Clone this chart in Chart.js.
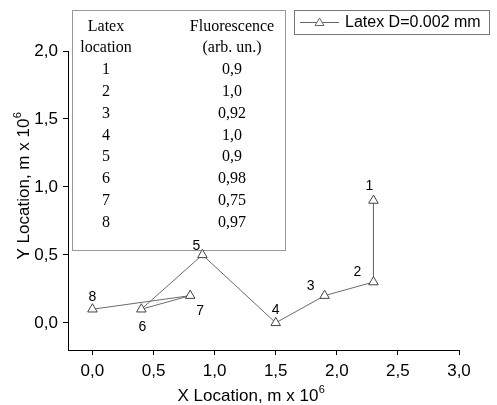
<!DOCTYPE html>
<html>
<head>
<meta charset="utf-8">
<script src="https://cdn.jsdelivr.net/npm/chart.js@4.4.0/dist/chart.umd.min.js"></script>
<style>
html,body{margin:0;padding:0;background:#fff;}
#wrap{width:497px;height:405px;position:relative;}
</style>
</head>
<body>
<div id="wrap"><canvas id="c" width="497" height="405"></canvas></div>
<script>
// ---- data ----
const pointNames = ['1','2','3','4','5','6','7','8'];
const xValues = [2.3, 2.3, 1.9, 1.5, 0.9, 0.4, 0.8, 0.0];
const yValues = [0.9, 0.3, 0.2, 0.0, 0.5, 0.1, 0.2, 0.1];
const xTicks = [0, 0.5, 1.0, 1.5, 2.0, 2.5, 3.0];
const yTicks = [0, 0.5, 1.0, 1.5, 2.0];
const seriesName = 'Latex D=0.002 mm';
const tableHeaderLeft = ['Latex', 'location'];
const tableHeaderRight = ['Fluorescence', '(arb. un.)'];
const tableLocations = ['1','2','3','4','5','6','7','8'];
const tableFluorescence = ['0,9','1,0','0,92','1,0','0,9','0,98','0,75','0,97'];
const xTitle = 'X Location, m x 10';
const yTitle = 'Y Location, m x 10';
const titleExp = '6';

// label offsets (style)
const labelOffsets = [[-4,-14],[-16,-10],[-14,-9],[0,-13],[-6,-9],[1,18],[10,16],[0,-12]];

const fmt = v => v.toFixed(1).replace('.', ',');
const SANS = '"Liberation Sans", Arial, sans-serif';
const SERIF = '"Liberation Serif", "Times New Roman", serif';

const decor = {
  id: 'decor',
  beforeDatasetsDraw(chart) {
    const ctx = chart.ctx;
    // table box
    ctx.save();
    ctx.fillStyle = '#fff';
    ctx.fillRect(72, 10, 213, 240);
    ctx.strokeStyle = '#999';
    ctx.lineWidth = 1;
    ctx.strokeRect(72.5, 10.5, 213, 240);
    ctx.fillStyle = '#000';
    ctx.font = '16px ' + SERIF;
    ctx.textAlign = 'center';
    ctx.textBaseline = 'middle';
    const lx = 106, rx = 232;
    ctx.fillText(tableHeaderLeft[0], lx, 27);
    ctx.fillText(tableHeaderLeft[1], lx, 48);
    ctx.fillText(tableHeaderRight[0], rx, 27);
    ctx.fillText(tableHeaderRight[1], rx, 48);
    for (let i = 0; i < tableLocations.length; i++) {
      const y = 70 + i * 21.8;
      ctx.fillText(tableLocations[i], lx, y);
      ctx.fillText(tableFluorescence[i], rx, y);
    }
    ctx.restore();
  },
  afterDraw(chart) {
    const ctx = chart.ctx;
    const xs = chart.scales.x, ys = chart.scales.y;
    ctx.save();
    // point labels
    ctx.fillStyle = '#000';
    ctx.font = '14px ' + SANS;
    ctx.textAlign = 'center';
    ctx.textBaseline = 'middle';
    for (let i = 0; i < xValues.length; i++) {
      const px = xs.getPixelForValue(xValues[i]);
      const py = ys.getPixelForValue(yValues[i]);
      ctx.fillText(pointNames[i], px + labelOffsets[i][0], py + labelOffsets[i][1]);
    }
    // x title
    ctx.font = '17px ' + SANS;
    const w1 = ctx.measureText(xTitle).width;
    ctx.font = '11px ' + SANS;
    const w2 = ctx.measureText(titleExp).width;
    let sx = 251 - (w1 + w2) / 2;
    ctx.textAlign = 'left';
    ctx.textBaseline = 'alphabetic';
    ctx.font = '17px ' + SANS;
    ctx.fillText(xTitle, sx, 401);
    ctx.font = '11px ' + SANS;
    ctx.fillText(titleExp, sx + w1 + 0.5, 393);
    // y title
    ctx.translate(29, 186);
    ctx.rotate(-Math.PI / 2);
    ctx.font = '17px ' + SANS;
    const v1 = ctx.measureText(yTitle).width;
    sx = -(v1 + w2) / 2;
    ctx.fillText(yTitle, sx, 0);
    ctx.font = '11px ' + SANS;
    ctx.fillText(titleExp, sx + v1 + 0.5, -8);
    ctx.restore();
    // legend
    ctx.save();
    ctx.strokeStyle = '#777';
    ctx.lineWidth = 1;
    ctx.strokeRect(294.5, 10.5, 195, 24);
    ctx.strokeStyle = '#666';
    ctx.beginPath();
    ctx.moveTo(300, 22.5); ctx.lineTo(339, 22.5); ctx.stroke();
    ctx.fillStyle = '#fff';
    ctx.beginPath();
    ctx.moveTo(319.5, 18); ctx.lineTo(324, 25.5); ctx.lineTo(315, 25.5); ctx.closePath();
    ctx.fill(); ctx.stroke();
    ctx.fillStyle = '#000';
    ctx.font = '16px ' + SANS;
    ctx.textAlign = 'left';
    ctx.textBaseline = 'middle';
    ctx.fillText(seriesName, 345, 23);
    ctx.restore();
  }
};

const points = xValues.map((x, i) => ({ x: x, y: yValues[i] }));

new Chart(document.getElementById('c'), {
  type: 'scatter',
  data: {
    datasets: [{
      label: seriesName,
      data: points,
      showLine: true,
      borderColor: '#6a6a6a',
      borderWidth: 1,
      pointStyle: 'triangle',
      pointRadius: 5.5,
      pointBackgroundColor: '#fff',
      pointBorderColor: '#444',
      pointBorderWidth: 1,
      tension: 0
    }]
  },
  options: {
    responsive: false,
    animation: false,
    devicePixelRatio: 1,
    layout: { padding: { top: 51, right: 38, left: 0, bottom: 0 } },
    plugins: { legend: { display: false }, tooltip: { enabled: false } },
    scales: {
      x: {
        type: 'linear',
        min: -0.2, max: 3.0,
        afterBuildTicks: s => { s.ticks = xTicks.map(v => ({ value: v })); },
        afterFit: s => { s.height = 55; },
        grid: { drawOnChartArea: false, drawTicks: true, tickLength: 5, color: '#000', tickColor: '#000' },
        border: { display: true, color: '#000', width: 1 },
        ticks: { color: '#000', font: { family: SANS, size: 17 }, padding: 6, maxRotation: 0, callback: v => fmt(v) }
      },
      y: {
        type: 'linear',
        min: -0.2, max: 2.0,
        afterBuildTicks: s => { s.ticks = yTicks.map(v => ({ value: v })); },
        afterFit: s => { s.width = 68; },
        grid: { drawOnChartArea: false, drawTicks: true, tickLength: 5, color: '#000', tickColor: '#000' },
        border: { display: true, color: '#000', width: 1 },
        ticks: { color: '#000', font: { family: SANS, size: 17 }, padding: 5, callback: v => fmt(v) }
      }
    }
  },
  plugins: [decor]
});
</script>
</body>
</html>
